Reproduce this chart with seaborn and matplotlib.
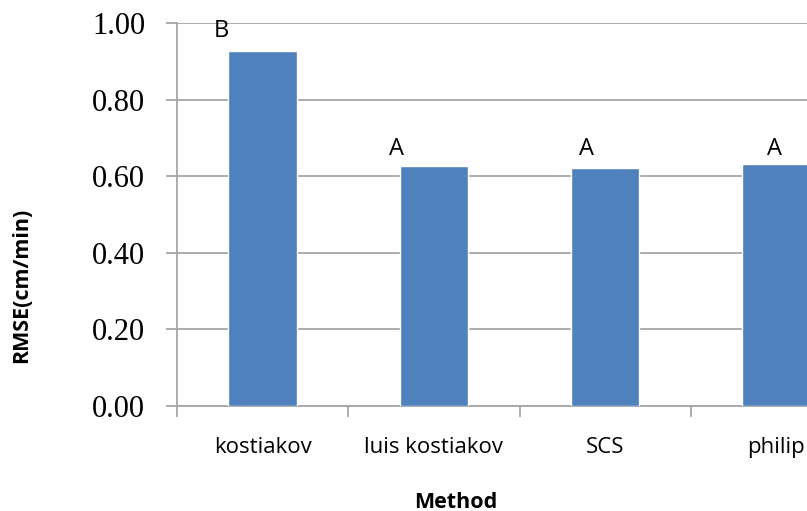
import matplotlib
matplotlib.use("Agg")
import matplotlib.pyplot as plt
import seaborn as sns
import pandas as pd
from matplotlib.ticker import FixedLocator

methods = ["kostiakov", "luis kostiakov", "SCS", "philip"]
rmse = [0.928, 0.627, 0.622, 0.631]
groups = ["B", "A", "A", "A"]
group_x_offset = [-0.24, -0.22, -0.11, -0.01]
group_y = [0.98, 0.670, 0.670, 0.670]
yticks = [0.0, 0.2, 0.4, 0.6, 0.8, 1.0]

sns.set_style("white")
plt.rcParams["font.family"] = ["Open Sans", "DejaVu Sans"]
plt.rcParams["text.color"] = "black"
plt.rcParams["xtick.color"] = "black"
plt.rcParams["ytick.color"] = "black"

df = pd.DataFrame({"Method": methods, "RMSE": rmse})

fig = plt.figure(figsize=(8.07, 5.11), dpi=100)
ax = fig.add_axes([177 / 807, 105 / 511, 685 / 807, 383 / 511])

sns.barplot(data=df, x="Method", y="RMSE", color="#4F81BD", width=0.4,
            saturation=1, ax=ax, zorder=3)

ax.set_ylim(0, 1.0)
ax.set_xlim(-0.5, len(methods) - 0.5)
ax.set_yticks(yticks)
ax.set_yticklabels([f"{v:.2f}" for v in yticks],
                   fontfamily="Liberation Serif", fontsize=22)
ax.yaxis.grid(True, color="#A6A6A6", linewidth=1.3, zorder=0)
ax.set_axisbelow(True)

for side in ["top", "right"]:
    ax.spines[side].set_visible(False)
for side in ["left", "bottom"]:
    ax.spines[side].set_color("#A6A6A6")
    ax.spines[side].set_linewidth(1.3)

ax.tick_params(axis="y", length=8, width=1.3, color="#A6A6A6", pad=15,
               left=True, direction="out", labelcolor="black")
ax.tick_params(axis="x", which="major", length=0, pad=22, labelsize=16,
               labelcolor="black")
ax.xaxis.set_minor_locator(FixedLocator([i - 0.5 for i in range(len(methods) + 1)]))
ax.tick_params(axis="x", which="minor", length=8, width=1.3, color="#A6A6A6",
               bottom=True, direction="out")

ax.set_xlabel("")
ax.set_ylabel("")
fig.text(456 / 807, 1 - 502 / 511, "Method", ha="center", va="center",
         fontsize=15.5, fontweight="bold", color="black")
fig.text(22 / 807, 1 - 285 / 511, "RMSE(cm/min)", ha="center", va="center",
         rotation=90, fontsize=15.5, fontweight="bold", color="black")

for i, (g, dx, gy) in enumerate(zip(groups, group_x_offset, group_y)):
    ax.text(i + dx, gy, g, ha="center", va="center", fontsize=17,
            color="black", zorder=4)

fig.savefig("out.png", dpi=100)
